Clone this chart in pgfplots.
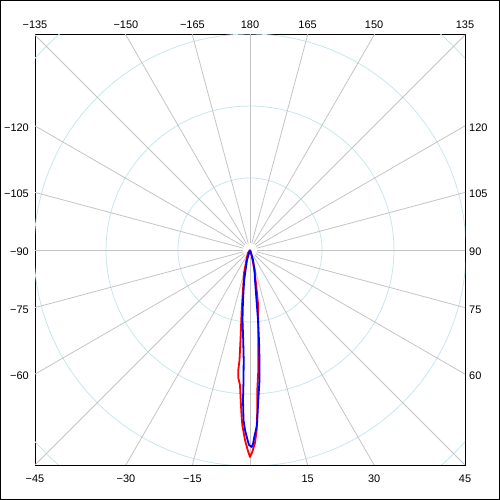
\documentclass[border=0pt]{standalone}
\usepackage{pgfplots}
\pgfplotsset{compat=1.18}
\usepackage{pgfplotstable}
\usepackage{fontspec}
\setmainfont{Liberation Sans}
\definecolor{gridgray}{RGB}{196,196,196}
\definecolor{ringblue}{RGB}{200,230,236}

% theta (deg, 0 = down, 90 = right), r
\pgfplotstableread{
theta r
0 0
-34.9 4.0
-14.6 23.8
-9.93 40.6
-7.88 60.6
-6.03 90.5
-5.45 110.5
-5.57 120.6
-5.22 128.5
-4.24 135.4
-3.55 150.3
-2.95 165.2
-2.52 175.2
-1.51 190.1
-0.66 200
0 207
0.65 202
1.48 193.1
2.13 180.1
2.61 160.2
2.98 140.2
3.96 120.3
4.74 100.3
5.92 80.4
8.28 57.6
9.51 40.6
11.3 25.5
14.0 12.4
18.4 3.16
0 0
}\redseries

\pgfplotstableread{
theta r
0 0
-16.7 5.22
-16.7 10.5
-11.0 30.5
-7.97 50.5
-6.12 70.4
-4.32 90.26
-3.28 110.18
-2.86 130.16
-2.67 150.16
-2.19 170.12
-1.59 180.07
-0.91 188.02
-0.29 195
0.49 197
0.89 194.02
1.32 187.05
2.29 175.14
3.17 150.23
4.18 130.35
4.94 110.4
5.71 90.45
6.52 70.46
7.41 50.42
9.46 30.41
13.0 20.4
16.7 10.3
18.4 3.16
0 0
}\blueseries

\begin{document}
\begin{tikzpicture}
\useasboundingbox (0,0) rectangle (500bp,500bp);
\draw[line width=1bp, black] (0.5bp,0.5bp) rectangle (499.5bp,499.5bp);
\begin{axis}[
  at={(35bp,35bp)}, anchor=south west,
  width=430bp, height=430bp, scale only axis,
  xmin=-215, xmax=215, ymin=-215, ymax=215,
  axis line style={line width=1bp, black},
  xtick=\empty, ytick=\empty,
  clip=true,
]
\draw[ringblue, line width=0.8bp] (axis cs:0,0) circle[radius=72bp];
\draw[ringblue, line width=0.8bp] (axis cs:0,0) circle[radius=144bp];
\draw[ringblue, line width=0.8bp] (axis cs:0,0) circle[radius=216bp];
\draw[ringblue, line width=0.8bp] (axis cs:0,0) circle[radius=288bp];
\pgfplotsinvokeforeach{-180,-165,-150,-135,-120,-105,-90,-75,-60,-45,-30,-15,0,15,30,45,60,75,90,105,120,135,150,165}{
  \draw[gridgray, line width=0.8bp] (axis cs:{7*sin(#1)},{-7*cos(#1)}) -- (axis cs:{400*sin(#1)},{-400*cos(#1)});
}
\addplot[red, line width=1.8bp, line join=round] table[x expr={\thisrow{r}*sin(\thisrow{theta})}, y expr={-\thisrow{r}*cos(\thisrow{theta})}] {\redseries};
\addplot[blue, line width=1.8bp, line join=round] table[x expr={\thisrow{r}*sin(\thisrow{theta})}, y expr={-\thisrow{r}*cos(\thisrow{theta})}] {\blueseries};
\end{axis}
% labels: 1bp = 1 axis unit, axis centre at (250bp,250bp)
\begin{scope}[shift={(250bp,250bp)}, every node/.style={font=\fontsize{11}{13}\selectfont, inner sep=0pt}]
% top
\foreach \x/\l in {-215/−135,-124.1/−150,-57.6/−165,0/180,57.6/165,124.1/150,215/135}
  \node[anchor=base] at (\x bp,221bp) {\l};
% bottom
\foreach \x/\l in {-215/−45,-124.1/−30,-57.6/−15,57.6/15,124.1/30,215/45}
  \node[anchor=base] at (\x bp,-232bp) {\l};
% left
\foreach \y/\l in {124.1/−120,57.6/−105,0/−90,-57.6/−75,-124.1/−60}
  \node[anchor=base east] at (-221bp,{\y bp-5.5bp}) {\l};
% right
\foreach \y/\l in {124.1/120,57.6/105,0/90,-57.6/75,-124.1/60}
  \node[anchor=base west] at (219bp,{\y bp-5.5bp}) {\l};
\end{scope}
\end{tikzpicture}
\end{document}
